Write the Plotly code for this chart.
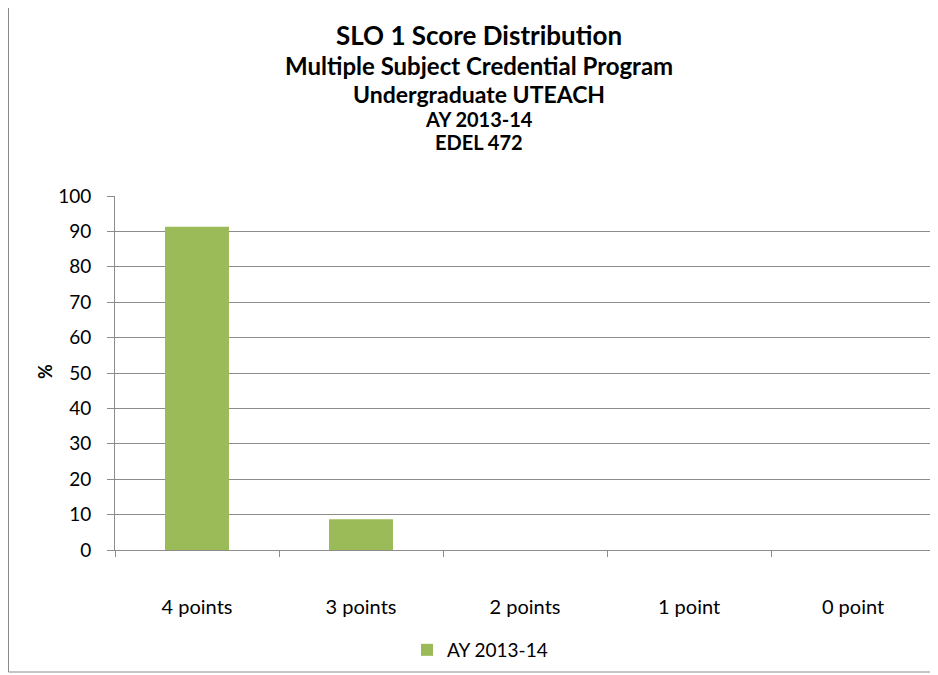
import plotly.graph_objects as go

categories = ["4 points", "3 points", "2 points", "1 point", "0 point"]
values = [91.3, 8.7, 0, 0, 0]
series_name = "AY 2013-14"
y_ticks = list(range(0, 101, 10))
title_lines = ["SLO 1 Score Distribution", "Multiple Subject Credential Program",
               "Undergraduate UTEACH", "AY 2013-14", "EDEL 472"]

OFF = 8  # page body margin
W, H = 930, 667
L, R, T, B = 107, 3, 188, 125
ph = H - T - B
pw = W - L - R

def py(pix):
    return (H - B - (pix - OFF)) / ph

def px(pix):
    return (pix - OFF - L) / pw

fig = go.Figure()
fig.add_trace(go.Bar(
    x=categories, y=values, name=series_name,
    marker=dict(color="#9BBB59", line=dict(width=0)),
    width=0.39,
))

font = "Lato, 'Open Sans', sans-serif"
sizes = [26, 24, 23, 20, 20]
ys = [35, 66, 94, 119, 142]
ann = []
for t, s, y in zip(title_lines, sizes, ys):
    ann.append(dict(text="<b>%s</b>" % t, x=px(479), y=py(y), xref="paper", yref="paper",
                    showarrow=False, font=dict(size=s, color="#000000", family=font),
                    xanchor="center", yanchor="middle"))
ann.append(dict(text="<b>%</b>", x=px(45), y=py(372), xref="paper", yref="paper",
                showarrow=False, textangle=-90, font=dict(size=18, color="#000", family=font),
                xanchor="center", yanchor="middle"))

fig.update_layout(
    width=W, height=H,
    margin=dict(l=L, r=R, t=T, b=B),
    paper_bgcolor="white", plot_bgcolor="white",
    font=dict(family=font, color="#000"),
    annotations=ann,
    showlegend=True,
    legend=dict(orientation="h", x=px(480), xanchor="center", y=py(650), yanchor="middle",
                font=dict(size=19, family=font), itemwidth=30),
    shapes=[dict(type="rect", xref="paper", yref="paper",
                 x0=px(8.5), x1=px(936.5), y0=py(672), y1=py(2),
                 line=dict(color="#8a8a8a", width=1), layer="below")],
)
fig.update_yaxes(range=[0, 100], tickvals=y_ticks, showgrid=True, gridcolor="#8c8c8c", gridwidth=1,
                 showline=True, linecolor="#8c8c8c", ticks="outside", ticklen=7, tickcolor="#8c8c8c",
                 ticklabelstandoff=12,
                 tickfont=dict(size=19, family=font), zeroline=False, fixedrange=True)
fig.update_xaxes(showgrid=False, showline=True, linecolor="#8c8c8c", ticks="outside", ticklen=6,
                 tickcolor="#8c8c8c", tickson="boundaries", ticklabelstandoff=39,
                 tickfont=dict(size=20, family=font))

fig.write_html("out.html")
